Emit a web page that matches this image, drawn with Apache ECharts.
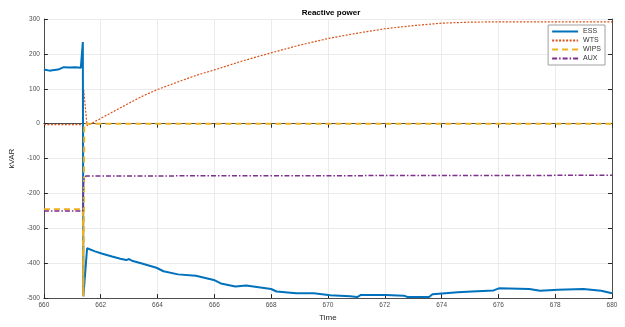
<!DOCTYPE html>
<html>
<head>
<meta charset="utf-8">
<script src="https://cdn.jsdelivr.net/npm/echarts@6/dist/echarts.min.js"></script>
<style>
  html, body { margin: 0; padding: 0; background: #fff; }
  #chart { width: 625px; height: 327px; }
</style>
</head>
<body>
<div id="chart"></div>
<script>
  // ESS
  var essTime = [660, 660.2, 660.3, 660.5, 660.7, 660.9, 661.1, 661.3, 661.36, 661.37, 661.39,
    661.52, 661.8, 662.06, 662.4, 662.69, 662.9, 663.0, 663.1, 663.45, 663.96, 664.21, 664.72,
    665.35, 665.98, 666.23, 666.74, 667.12, 668.0, 668.19, 668.88, 669.5, 670.08, 670.78,
    671.03, 671.16, 672.04, 672.67, 672.8, 673.56, 673.68, 674.57, 675.07, 675.83, 676.02,
    677.09, 677.47, 678.1, 678.99, 679.62, 680];
  var essVal = [155, 152, 153, 155, 162, 161, 162, 160, 158, 234, -495,
    -357, -366, -373, -381, -387, -391, -388, -393, -401, -413, -423, -432,
    -436, -448, -458, -467, -464, -474, -481, -486, -486, -492, -495,
    -497, -491, -491, -493, -497, -497, -489, -483, -481, -478, -472,
    -474, -479, -476, -474, -479, -486];

  // WTS
  var wtsTime = [660, 661.36, 661.4, 661.52, 662, 662.5, 663, 663.5, 664, 664.5, 665, 665.5,
    666, 667, 668, 669, 670, 671, 672, 673, 674, 675, 676, 678, 680];
  var wtsVal = [-3, -3, 97, -6, 15, 37, 59, 80, 98, 113, 128, 142,
    154, 180, 203, 225, 244, 259, 272, 281, 288, 291, 292, 292, 292];

  // WIPS
  var wipsTime = [660, 661.37, 661.39, 661.42, 680];
  var wipsVal = [-245, -245, -495, 0, 0];

  // AUX
  var auxTime = [660, 661.37, 661.4, 661.48, 661.55, 680];
  var auxVal = [-250, -250, -160, -150, -148, -148];

  var xTicks = { min: 660, max: 680, interval: 2 };
  var yTicks = { min: -500, max: 300, interval: 100 };

  function pairs(t, v) {
    return t.map(function (x, i) { return [x, v[i]]; });
  }

  var axisCol = '#262626';
  var labelCol = '#4d4d4d';
  var fontFam = '"Liberation Sans", Arial, sans-serif';

  var chart = echarts.init(document.getElementById('chart'));
  var option = {
    animation: false,
    backgroundColor: '#fff',
    title: {
      text: 'Reactive power',
      left: 326,
      textAlign: 'center',
      top: 4,
      textStyle: { fontSize: 8, fontWeight: 'bold', color: '#000', fontFamily: fontFam }
    },
    legend: {
      orient: 'vertical',
      right: 20,
      top: 25,
      padding: [3, 4, 3, 3],
      itemGap: 2,
      itemWidth: 26,
      itemHeight: 8,
      borderColor: '#a0a0a0',
      borderWidth: 1,
      backgroundColor: '#fff',
      itemStyle: { opacity: 0 },
      textStyle: { fontSize: 7, color: '#333', fontFamily: fontFam },
      data: ['ESS', 'WTS', 'WIPS', 'AUX']
    },
    grid: { left: 40, right: 13, top: 19, bottom: 27, containLabel: false },
    xAxis: [{
      type: 'value',
      min: xTicks.min, max: xTicks.max, interval: xTicks.interval,
      name: 'Time',
      nameLocation: 'middle',
      nameGap: 15,
      nameTextStyle: { fontSize: 8, color: axisCol, fontFamily: fontFam },
      axisLine: { show: true, onZero: false, lineStyle: { color: axisCol, width: 0.8 } },
      axisTick: { show: true, inside: true, length: 4, lineStyle: { color: axisCol } },
      axisLabel: { fontSize: 6.5, color: labelCol, margin: 4, fontFamily: fontFam },
      splitLine: { show: true, lineStyle: { color: '#e6e6e6', width: 0.8 } }
    }, {
      type: 'value', position: 'top',
      min: xTicks.min, max: xTicks.max, interval: xTicks.interval,
      axisLine: { show: true, lineStyle: { color: axisCol, width: 0.8 } },
      axisTick: { show: true, inside: true, length: 4, lineStyle: { color: axisCol } },
      axisLabel: { show: false },
      splitLine: { show: false }
    }],
    yAxis: [{
      type: 'value',
      min: yTicks.min, max: yTicks.max, interval: yTicks.interval,
      name: 'kVAR',
      nameLocation: 'middle',
      nameGap: 22,
      nameTextStyle: { fontSize: 8, color: axisCol, fontFamily: fontFam },
      axisLine: { show: true, onZero: false, lineStyle: { color: axisCol, width: 0.8 } },
      axisTick: { show: true, inside: true, length: 4, lineStyle: { color: axisCol } },
      axisLabel: { fontSize: 6.5, color: labelCol, margin: 4, fontFamily: fontFam },
      splitLine: { show: true, lineStyle: { color: '#e6e6e6', width: 0.8 } }
    }, {
      type: 'value', position: 'right',
      min: yTicks.min, max: yTicks.max, interval: yTicks.interval,
      axisLine: { show: true, lineStyle: { color: axisCol, width: 0.8 } },
      axisTick: { show: true, inside: true, length: 4, lineStyle: { color: axisCol } },
      axisLabel: { show: false },
      splitLine: { show: false }
    }],
    series: [{
      name: 'ESS', type: 'line', symbol: 'none', z: 4,
      color: '#0072BD',
      lineStyle: { color: '#0072BD', width: 2 },
      data: pairs(essTime, essVal)
    }, {
      name: 'WTS', type: 'line', symbol: 'none', z: 3,
      color: '#D95319',
      lineStyle: { color: '#D95319', width: 1.2, type: [2, 1.5] },
      data: pairs(wtsTime, wtsVal)
    }, {
      name: 'WIPS', type: 'line', symbol: 'none', z: 5,
      color: '#EDB120',
      lineStyle: { color: '#EDB120', width: 2, type: [6, 4] },
      data: pairs(wipsTime, wipsVal)
    }, {
      name: 'AUX', type: 'line', symbol: 'none', z: 5,
      color: '#7E2F8E',
      lineStyle: { color: '#7E2F8E', width: 1.5, type: [5, 2, 1.5, 2] },
      data: pairs(auxTime, auxVal)
    }]
  };
  chart.setOption(option);
</script>
</body>
</html>
